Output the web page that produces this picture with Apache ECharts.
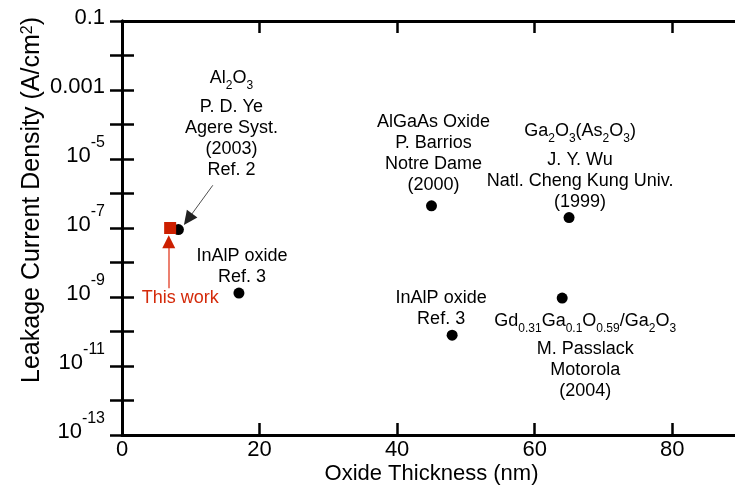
<!DOCTYPE html>
<html>
<head>
<meta charset="utf-8">
<script src="https://cdn.jsdelivr.net/npm/echarts@6/dist/echarts.min.js"></script>
<style>
  html, body { margin: 0; padding: 0; background: #fff; }
  #main { width: 735px; height: 498px; }
</style>
</head>
<body>
<div id="main"></div>
<script>
// literature values (oxide thickness in nm, leakage in A/cm2)
var refThickness = [8.2, 17, 45, 65, 48, 64];
var refLeakage = [9e-8, 1.3e-9, 4.4e-7, 2e-7, 7.8e-11, 9.3e-10];
var refLabels = [
    '{b|Al}{sub|2}{b|O}{sub|3}\nP. D. Ye\nAgere Syst.\n(2003)\nRef. 2',
    'InAlP oxide\nRef. 3',
    'AlGaAs Oxide\nP. Barrios\nNotre Dame\n(2000)',
    '{b|Ga}{sub|2}{b|O}{sub|3}{b|(As}{sub|2}{b|O}{sub|3}{b|)}\nJ. Y. Wu\nNatl. Cheng Kung Univ.\n(1999)',
    'InAlP oxide\nRef. 3',
    '{b|Gd}{sub|0.31}{b|Ga}{sub|0.1}{b|O}{sub|0.59}{b|/Ga}{sub|2}{b|O}{sub|3}\nM. Passlack\nMotorola\n(2004)'
];
var thisThickness = [7];
var thisLeakage = [1e-7];
var thisLabel = 'This work';

var xTicks = [0, 20, 40, 60, 80];
var yLabelExps = [-1, -3, -5, -7, -9, -11, -13];

var FONT = 'Liberation Sans';

// label placement around each literature point
var labelPlace = [
    {position: 'top', distance: 5, offset: [53, -39]},
    {position: 'top', distance: 0, offset: [3, 0]},
    {position: 'top', distance: 5, offset: [2, 0]},
    {position: 'top', distance: 0, offset: [11, 0]},
    {position: 'top', distance: 0, offset: [-11, 0]},
    {position: 'bottom', distance: 8, offset: [23, 0]}
];

var richText = {
    b: {fontFamily: FONT, fontSize: 18, color: '#000', lineHeight: 27, verticalAlign: 'top'},
    sub: {fontFamily: FONT, fontSize: 12, color: '#000', lineHeight: 12, verticalAlign: 'bottom', padding: [0, 0, 4, 0]}
};

var refData = [];
for (var i = 0; i < refThickness.length; i++) {
    refData.push({
        value: [refThickness[i], refLeakage[i]],
        label: {
            show: true,
            formatter: refLabels[i],
            position: labelPlace[i].position,
            distance: labelPlace[i].distance,
            offset: labelPlace[i].offset
        }
    });
}
var thisData = [];
for (var j = 0; j < thisThickness.length; j++) {
    thisData.push([thisThickness[j], thisLeakage[j]]);
}

function yFmt(value) {
    var e = Math.round(Math.log(value) / Math.LN10);
    if (yLabelExps.indexOf(e) < 0) return '';
    if (e == -1) return '0.1';
    if (e == -3) return '0.001';
    return '{m|10}{sup|' + e + '}';
}

var axisCommon = {
    nameMoveOverlap: false,
    axisLine: {show: true, lineStyle: {color: '#000', width: 3}},
    axisTick: {show: true, inside: true, length: 12, lineStyle: {color: '#000', width: 2.5}},
    splitLine: {show: false},
    minorTick: {show: false}
};

var myChart = echarts.init(document.getElementById('main'));
myChart.setOption({
    animation: false,
    backgroundColor: '#fff',
    textStyle: {fontFamily: FONT},
    grid: {left: 122, top: 21, width: 619, height: 414, outerBoundsMode: 'none', containLabel: false},
    xAxis: [
        echarts.util.merge({
            type: 'value',
            position: 'bottom',
            min: 0,
            max: 90,
            interval: 20,
            name: 'Oxide Thickness (nm)',
            nameLocation: 'middle',
            nameGap: 28,
            nameTextStyle: {fontFamily: FONT, fontSize: 22, color: '#000'},
            axisLabel: {
                fontFamily: FONT, fontSize: 22, color: '#000', margin: 4,
                formatter: function (v) { return xTicks.indexOf(v) >= 0 ? v : ''; }
            }
        }, axisCommon, true),
        echarts.util.merge({
            type: 'value',
            position: 'top',
            min: 0,
            max: 90,
            interval: 20,
            axisLabel: {show: false}
        }, axisCommon, true)
    ],
    yAxis: [
        echarts.util.merge({
            type: 'log',
            logBase: 10,
            position: 'left',
            min: 1e-13,
            max: 0.1,
            interval: 1,
            name: 'Leakage Current Density (A/cm{s|2})',
            nameLocation: 'middle',
            nameGap: 77,
            nameTextStyle: {
                fontFamily: FONT, fontSize: 25, color: '#000',
                padding: [0, 0, 0, 56],
                rich: {s: {fontFamily: FONT, fontSize: 16, verticalAlign: 'top', lineHeight: 16}}
            },
            axisLabel: {
                fontFamily: FONT, fontSize: 22, color: '#000', margin: 17,
                lineHeight: 22,
                padding: [0, 0, 7, 0],
                formatter: yFmt,
                rich: {
                    m: {fontFamily: FONT, fontSize: 22, lineHeight: 42, color: '#000'},
                    sup: {fontFamily: FONT, fontSize: 16, lineHeight: 16, verticalAlign: 'top', color: '#000'}
                }
            }
        }, axisCommon, true),
        echarts.util.merge({
            type: 'log',
            logBase: 10,
            position: 'right',
            min: 1e-13,
            max: 0.1,
            interval: 1,
            axisLabel: {show: false}
        }, axisCommon, true)
    ],
    series: [
        {
            name: 'literature',
            type: 'scatter',
            symbol: 'circle',
            symbolSize: 11,
            itemStyle: {color: '#000', opacity: 1},
            label: {
                show: true,
                color: '#000',
                fontFamily: FONT,
                fontSize: 18,
                lineHeight: 21,
                align: 'center',
                rich: richText
            },
            data: refData,
            markLine: {
                silent: true,
                symbol: ['none', 'triangle'],
                symbolSize: [13, 14],
                label: {show: false},
                lineStyle: {color: '#222', width: 0.8, type: 'solid'},
                data: [
                    [{coord: [13.2, 1.73e-6]}, {coord: [9.6, 1.79e-7]}]
                ]
            },
            z: 2
        },
        {
            name: 'this work',
            type: 'scatter',
            symbol: 'rect',
            symbolSize: 12,
            itemStyle: {color: '#cc1f00', opacity: 1},
            label: {
                show: true,
                formatter: thisLabel,
                position: 'bottom',
                distance: 55,
                offset: [10, 0],
                color: '#d42a0a',
                fontFamily: FONT,
                fontSize: 18
            },
            data: thisData,
            markLine: {
                silent: true,
                symbol: ['none', 'none'],
                label: {show: false},
                lineStyle: {color: '#ec8070', width: 2, type: 'solid'},
                data: [
                    [{coord: [6.8, 1.8e-9]}, {coord: [6.8, 3.5e-8]}]
                ]
            },
            markPoint: {
                silent: true,
                symbol: 'triangle',
                symbolSize: [13, 13],
                itemStyle: {color: '#cc1f00', opacity: 1},
                label: {show: false},
                data: [{coord: [6.8, 4e-8]}]
            },
            z: 3
        }
    ]
});
</script>
</body>
</html>
